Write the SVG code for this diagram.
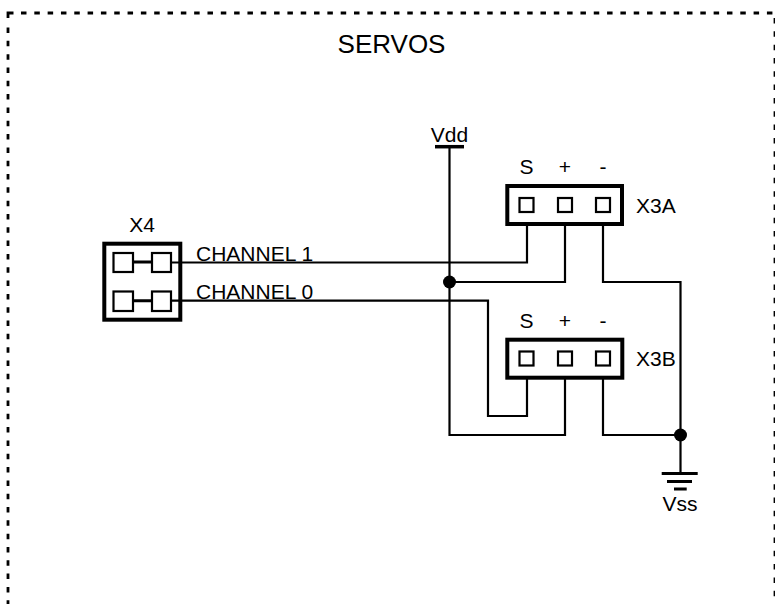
<svg xmlns="http://www.w3.org/2000/svg" width="775" height="604" viewBox="0 0 775 604">
<style>
text{font-family:"Liberation Sans",Arial,sans-serif;font-size:21px;fill:#000}
.w{fill:none;stroke:#000;stroke-width:2.2}
.box{fill:#fff;stroke:#000;stroke-width:4}
.pin{fill:#fff;stroke:#000;stroke-width:2.2}
.m{text-anchor:middle}
.d{fill:none;stroke:#000;stroke-width:2.800;stroke-dasharray:5.500 7.820}
</style>
<rect width="775" height="604" fill="#fff"/>
<g id="border">
<path d="M8 18V13H13.500" fill="none" stroke="#000" stroke-width="2.800"/>
<path class="d" d="M21 13H775"/>
<path class="d" d="M8 27.500V604"/>
<path class="d" d="M775 18V604"/>
</g>
<text x="391.500" y="52.500" class="m" style="font-size:26px">SERVOS</text>
<g id="connectors">
<path class="w" d="M449.500 147V435H565V378"/>
<path class="w" d="M171 262.500H527V225"/>
<path class="w" d="M171 300.700H488V416H527V378"/>
<path class="w" d="M449.500 282H565V225"/>
<path class="w" d="M603 225V282H680.500V473"/>
<path class="w" d="M603 378V435H680.500"/>
<path d="M133 262H151M133 300.700H151" fill="none" stroke="#000" stroke-width="3"/>
<circle cx="449.500" cy="282" r="6.500"/>
<circle cx="680.500" cy="435" r="6.500"/>
</g>
<g id="X4">
<rect class="box" x="104.300" y="243.700" width="76" height="76" style="fill:none"/>
<rect class="pin" x="113.500" y="253" width="19.500" height="19"/>
<rect class="pin" x="152" y="253" width="19" height="19"/>
<rect class="pin" x="113.500" y="291.500" width="19.500" height="19.500"/>
<rect class="pin" x="152" y="291.500" width="19" height="19.500"/>
<text x="142" y="232" class="m">X4</text>
</g>
<text x="196" y="261">CHANNEL 1</text>
<text x="196" y="299">CHANNEL 0</text>
<g id="Vdd">
<path d="M435 146.700H464" stroke="#000" stroke-width="3.500"/>
<text x="449.500" y="142" class="m">Vdd</text>
</g>
<g id="X3A">
<rect class="box" x="507.300" y="186" width="114.700" height="38"/>
<rect class="pin" x="519.500" y="198" width="14" height="14"/>
<rect class="pin" x="558" y="198" width="14" height="14"/>
<rect class="pin" x="596" y="198" width="14" height="14"/>
<text x="526.500" y="173.500" class="m">S</text>
<text x="565" y="173.500" class="m">+</text>
<text x="603" y="173.500" class="m">-</text>
<text x="636" y="213">X3A</text>
</g>
<g id="X3B">
<rect class="box" x="507.300" y="339.700" width="115" height="38"/>
<rect class="pin" x="519.500" y="351.500" width="14" height="14"/>
<rect class="pin" x="558" y="351.500" width="14" height="14"/>
<rect class="pin" x="596" y="351.500" width="14" height="14"/>
<text x="526.500" y="327.500" class="m">S</text>
<text x="565" y="327.500" class="m">+</text>
<text x="603" y="327.500" class="m">-</text>
<text x="636" y="366">X3B</text>
</g>
<g id="Vss">
<path d="M661.700 473.500H697.700M667 481.500H692M674 489H686.700" stroke="#000" stroke-width="2.800" fill="none"/>
<text x="680" y="510.500" class="m">Vss</text>
</g>
</svg>
